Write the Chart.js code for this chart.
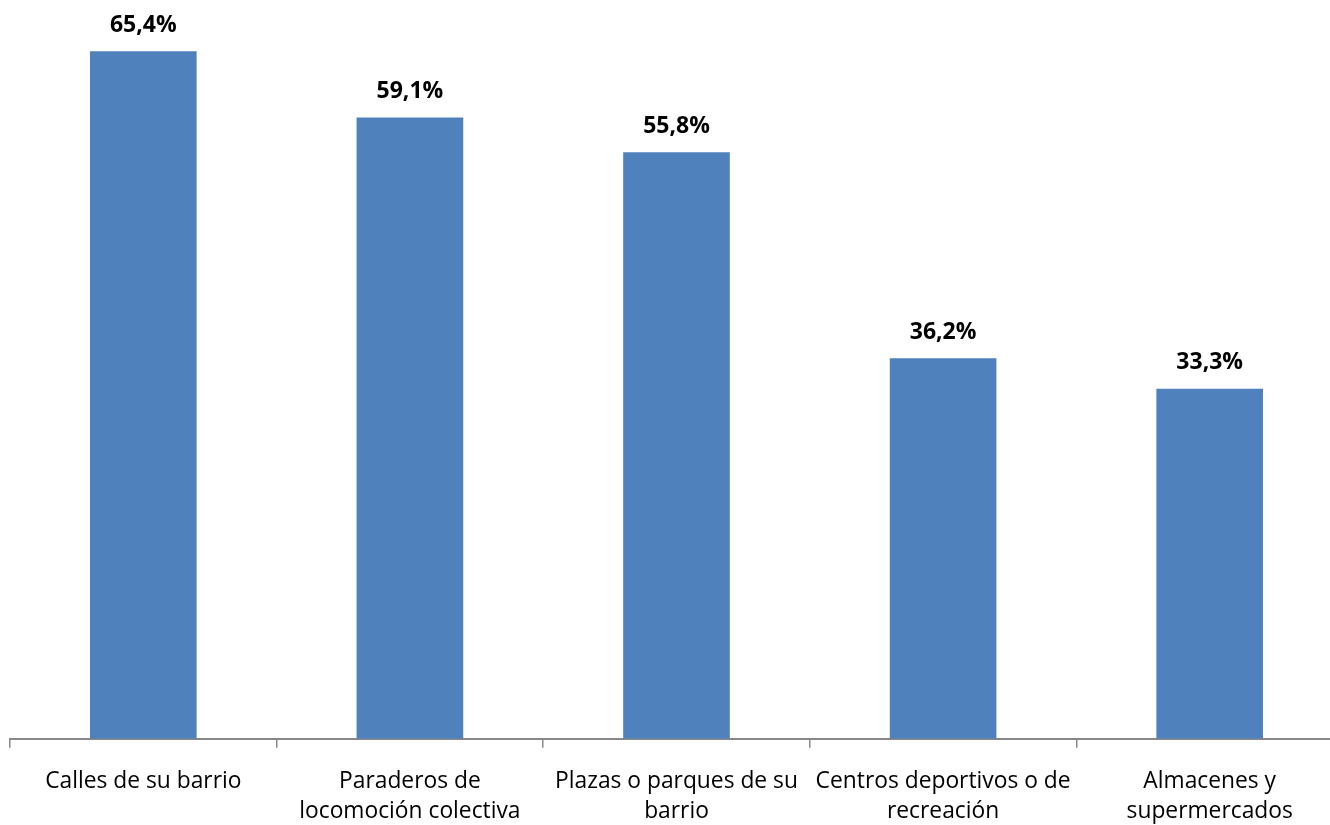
<!DOCTYPE html>
<html>
<head>
<meta charset="utf-8">
<script src="https://cdn.jsdelivr.net/npm/chart.js@4"></script>
<style>
html,body{margin:0;padding:0;background:#fff;overflow:hidden;}
#wrap{width:1345px;height:825px;overflow:hidden;}
</style>
</head>
<body>
<div id="wrap"><canvas id="c" width="1345" height="846"></canvas></div>
<script>
const categories = [
  "Calles de su barrio",
  ["Paraderos de", "locomoción colectiva"],
  ["Plazas o parques de su", "barrio"],
  ["Centros deportivos o de", "recreación"],
  ["Almacenes y", "supermercados"]
];
const values = [65.4, 59.1, 55.8, 36.2, 33.3];
const valueLabels = ["65,4%", "59,1%", "55,8%", "36,2%", "33,3%"];

const FONT = "'Open Sans', 'Noto Sans', sans-serif";

const dataLabels = {
  id: 'dataLabels',
  afterDatasetsDraw(chart) {
    const ctx = chart.ctx;
    const meta = chart.getDatasetMeta(0);
    ctx.save();
    ctx.font = "bold 23px " + FONT;
    ctx.fillStyle = "#000";
    ctx.textAlign = "center";
    ctx.textBaseline = "middle";
    meta.data.forEach((bar, i) => {
      ctx.fillText(valueLabels[i], bar.x, bar.y - 26);
    });
    ctx.restore();
  }
};

new Chart(document.getElementById('c'), {
  type: 'bar',
  data: {
    labels: categories,
    datasets: [{
      data: values,
      backgroundColor: '#4F81BD',
      borderWidth: 0,
      categoryPercentage: 1.0,
      barPercentage: 0.4
    }]
  },
  options: {
    responsive: false,
    animation: false,
    layout: { padding: { left: 10, right: 2, top: 3, bottom: 0 } },
    plugins: { legend: { display: false }, tooltip: { enabled: false } },
    scales: {
      y: { display: false, min: 0, max: 70 },
      x: {
        border: { display: true, color: '#888888', width: 2 },
        grid: { display: true, drawOnChartArea: false, drawTicks: true, tickLength: 9, color: '#888888', lineWidth: 1.5, offset: true },
        ticks: {
          color: '#000',
          font: { family: FONT, size: 22.8, lineHeight: 1.32 },
          padding: 19,
          maxRotation: 0,
          autoSkip: false
        }
      }
    }
  },
  plugins: [dataLabels]
});
</script>
</body>
</html>
